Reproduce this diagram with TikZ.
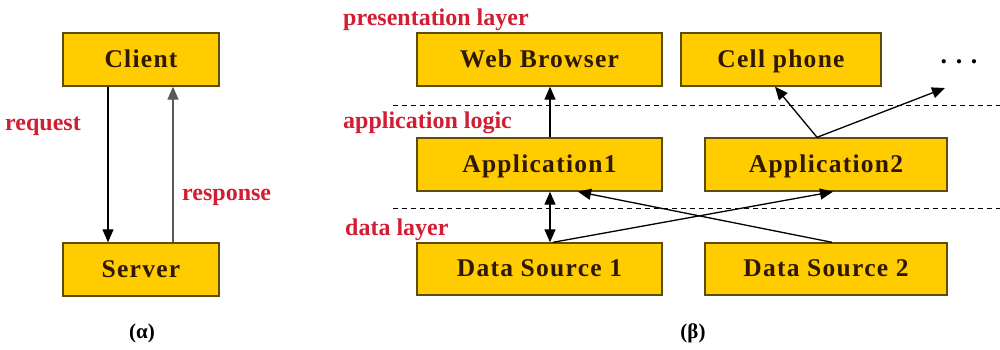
\documentclass[tikz,border=0pt]{standalone}
\usepackage{fontspec}
\setmainfont{Liberation Serif}
\usetikzlibrary{arrows.meta}
\definecolor{boxfill}{RGB}{255,204,0}
\definecolor{boxline}{RGB}{95,75,10}
\definecolor{boxtext}{RGB}{45,25,5}
\definecolor{layerred}{RGB}{210,30,50}
\tikzset{
  tier/.style={draw=boxline, line width=1.4pt, fill=boxfill, minimum height=53pt,
    inner sep=0pt, text=boxtext, text height=17pt, text depth=2pt,
    font=\fontsize{25.5}{28}\selectfont\bfseries\addfontfeatures{LetterSpace=5}},
  layer/.style={anchor=west, inner sep=0pt, text=layerred,
    font=\fontsize{24}{26}\selectfont\bfseries},
  caption/.style={inner sep=0pt, font=\fontsize{21}{23}\selectfont\bfseries},
  flow/.style={line width=1.3pt, -{Triangle[length=13pt,width=11pt]}},
  both/.style={line width=1.3pt, {Triangle[length=13pt,width=11pt]}-{Triangle[length=13pt,width=11pt]}},
  sep/.style={line width=1pt, dash pattern=on 5pt off 4pt}
}
\begin{document}
\begin{tikzpicture}[x=1pt,y=-1pt]
\useasboundingbox[fill=white] (0,0) rectangle (1000,349);

% client / server
\node[tier, minimum width=156pt] (client) at (141,59.5) {Client};
\node[tier, minimum width=156pt] (server) at (141,269.5) {Server};
\draw[flow] ([xshift=-33pt]client.south) -- ([xshift=-33pt]server.north);
\draw[flow, draw=gray!70!black] ([xshift=32pt]server.north) -- ([xshift=32pt]client.south);
\node[layer] (req) at (5,126) {request};
\node[layer] (resp) at (182,197) {response};
\node[caption] (capa) at (142,333) {(α)};

% three tiers
\node[layer] (lpres) at (343,20) {presentation layer};
\node[layer] (lapp) at (343,123) {application logic};
\node[layer] (ldata) at (345,230) {data layer};

\draw[sep] (393,105) coordinate (s1a) -- (1000,105) coordinate (s1b);
\draw[sep] (393,208) coordinate (s2a) -- (1000,208) coordinate (s2b);

\node[tier, minimum width=245pt] (web) at (539.5,59.5) {Web Browser};
\node[tier, minimum width=200pt] (cell) at (781,59.5) {Cell phone};
\node[tier, minimum width=245pt] (app1) at (539.5,164.5) {Application1};
\node[tier, minimum width=242pt] (app2) at (826,164.5) {Application2};
\node[tier, minimum width=245pt, minimum height=52pt] (ds1) at (539.5,269) {Data Source 1};
\node[tier, minimum width=242pt, minimum height=52pt] (ds2) at (826,269) {Data Source 2};
\node[inner sep=0pt, font=\fontsize{26}{28}\selectfont\bfseries] (more) at (959,62) {. . .};
\coordinate (moretip) at (945,88);
\node[caption] (capb) at (693,333) {(β)};

\draw[flow] ([xshift=10.5pt]app1.north) -- ([xshift=10.5pt]web.south);
\draw[both] ([xshift=10.5pt]app1.south) -- ([xshift=10.5pt]ds1.north);
\draw[flow] ([xshift=13.5pt]ds1.north) -- ([xshift=7pt]app2.south);
\draw[flow] ([xshift=6pt]ds2.north) -- ([xshift=38.5pt]app1.south);
\draw[flow] ([xshift=-9pt]app2.north) -- ([xshift=-6pt]cell.south);
\draw[flow] ([xshift=-9pt]app2.north) -- (moretip);
\end{tikzpicture}
\end{document}
